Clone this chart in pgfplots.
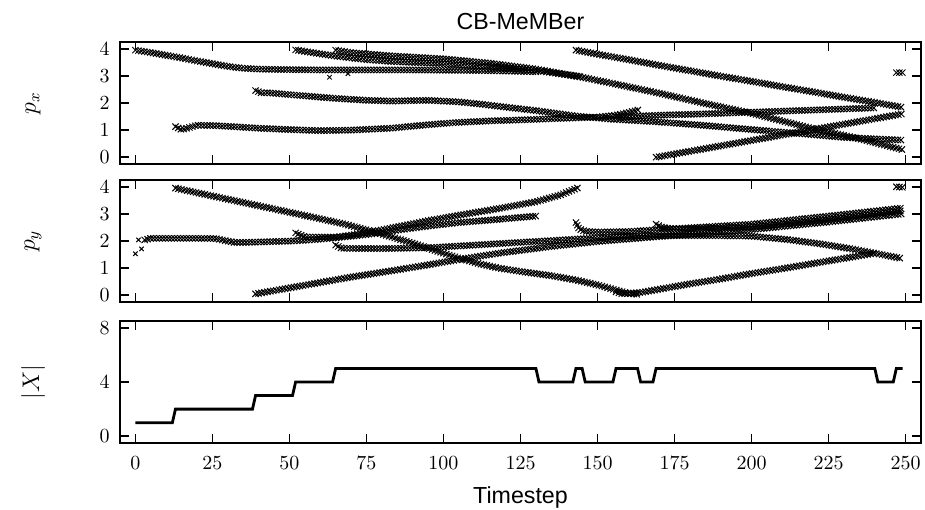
\documentclass[border=0pt]{standalone}
\usepackage{fontspec}
\newfontfamily\helv{Liberation Sans}
\usepackage{pgfplots}
\pgfplotsset{compat=1.18}
\usetikzlibrary{decorations.markings}

\pgfplotsset{
 panel/.style={scale only axis, width=400.5pt, height=61pt, anchor=north west,
   xmin=-5, xmax=255, xtick={0,25,...,250}, tick align=inside, major tick length=4.5pt,
   axis line style={line width=1.1pt}, every tick/.append style={line width=0.8pt, black},
   tick label style={font=\fontsize{10.3}{12}\selectfont},
   xticklabel style={yshift=-3.5pt}, yticklabel style={xshift=-1.7pt},
   ylabel style={at={(axis description cs:-0.1086,0.5)}, anchor=center, font=\fontsize{12}{14}\selectfont},
   every axis plot/.append style={mark=none}},
 xtrack/.style={draw=none, postaction={decorate}, decoration={markings,
   mark=between positions 0 and 1 step 1.5pt with {\pgftransformresetnontranslations
   \draw[black,line width=0.5pt] (-1.55pt,-1.55pt)--(1.55pt,1.55pt) (-1.55pt,1.55pt)--(1.55pt,-1.55pt);}}},
 outl/.style={only marks, mark=x, mark size=1.55pt, mark options={line width=0.5pt, black}},
}

\begin{document}
\begin{tikzpicture}
\useasboundingbox (0,0) rectangle (462.5pt,-254.5pt);

% ---------------- p_x ----------------
\begin{axis}[panel, at={(60pt,-21pt)}, ymin=-0.25, ymax=4.25, ytick={0,1,2,3,4},
  xticklabels={}, ylabel={$p_x$},
  title={CB-MeMBer}, title style={at={(0.5,1)}, anchor=base, yshift=0.5pt, font=\helv\fontsize{11.6}{14}\selectfont}]
\addplot[xtrack] coordinates {(0,3.95) (5,3.86) (10,3.76) (15,3.66) (20,3.55) (25,3.45) (30,3.35) (35,3.28) (40,3.25) (50,3.23) (60,3.22) (70,3.22) (80,3.22) (90,3.22) (100,3.21) (110,3.2) (120,3.18) (130,3.15)};
\addplot[xtrack] coordinates {(13,1.13) (15,1.02) (17,1.08) (20,1.18) (25,1.17) (30,1.14) (40,1.07) (50,1.02) (60,0.98) (70,1.0) (83,1.07) (95,1.2) (104,1.28) (115,1.34) (126,1.38) (135,1.42) (143,1.45) (150,1.48) (156,1.55) (160,1.65) (164,1.77)};
\addplot[xtrack] coordinates {(39,2.46) (41,2.37) (43,2.38) (52,2.29) (65,2.17) (75,2.1) (83,2.07) (95,2.1) (105,2.04) (112,1.96) (120,1.85) (130,1.72) (143,1.52) (155,1.4) (170,1.3) (185,1.17) (195,1.07) (215,0.88) (230,0.73) (249,0.63)};
\addplot[xtrack] coordinates {(52,3.96) (55,3.9) (65,3.73) (75,3.6) (83,3.53) (100,3.45) (115,3.33) (130,3.2) (145,2.97)};
\addplot[xtrack] coordinates {(65,3.95) (70,3.86) (83,3.74) (100,3.63) (115,3.47) (130,3.25) (145,2.95) (160,2.6) (170,2.36) (185,1.98) (200,1.62) (219,1.08) (235,0.68) (249,0.28)};
\addplot[xtrack] coordinates {(143,3.95) (150,3.8) (160,3.6) (170,3.39) (180,3.19) (190,2.99) (200,2.8) (210,2.6) (220,2.41) (230,2.21) (240,2.02) (249,1.84)};
\addplot[xtrack] coordinates {(156,1.5) (160,1.5) (170,1.55) (185,1.6) (200,1.66) (215,1.72) (230,1.78) (240,1.82)};
\addplot[xtrack] coordinates {(169,0.0) (180,0.22) (190,0.42) (200,0.62) (210,0.82) (220,1.02) (230,1.22) (240,1.42) (249,1.6)};
\addplot[xtrack] coordinates {(247,3.12) (249,3.12)};
\addplot[outl] coordinates {(63,2.95) (69,3.08)};
\end{axis}

% ---------------- p_y ----------------
\begin{axis}[panel, at={(60pt,-90pt)}, ymin=-0.25, ymax=4.25, ytick={0,1,2,3,4},
  xticklabels={}, ylabel={$p_y$}]
\addplot[xtrack] coordinates {(3,2.04) (5,2.1) (10,2.1) (15,2.1) (20,2.1) (26,2.09) (29,2.02) (32,1.95) (36,1.95) (45,1.98) (51,2.0) (58,2.05) (65,2.12) (72,2.2) (78,2.28) (85,2.4) (95,2.55) (105,2.68) (118,2.8) (130,2.92)};
\addplot[xtrack] coordinates {(13,3.95) (20,3.78) (30,3.54) (40,3.3) (50,3.06) (60,2.82) (68,2.62) (78,2.32) (90,1.92) (100,1.55) (105,1.37) (112,1.15) (118,1.0) (126,0.86) (135,0.72) (143,0.56) (150,0.38) (156,0.19) (160,0.07) (163,0.03)};
\addplot[xtrack] coordinates {(39,0.05) (50,0.27) (60,0.47) (70,0.67) (83,0.9) (95,1.12) (105,1.32) (118,1.55) (135,1.8) (150,1.98) (165,2.12) (180,2.25) (200,2.42) (225,2.7) (249,3.0)};
\addplot[xtrack] coordinates {(52,2.3) (55,2.15) (65,2.14) (75,2.3) (83,2.48) (95,2.75) (105,2.95) (118,3.2) (130,3.45) (138,3.7) (144,3.98)};
\addplot[xtrack] coordinates {(65,1.85) (67,1.73) (80,1.72) (95,1.75) (110,1.85) (125,1.95) (140,2.05) (155,2.15) (169,2.2) (185,2.2) (200,2.18) (212,2.05) (222,1.9) (232,1.72) (240,1.55) (249,1.35)};
\addplot[xtrack] coordinates {(143,2.68) (144,2.44) (146,2.36) (150,2.33) (160,2.35) (170,2.42) (185,2.52) (200,2.62) (225,2.92) (249,3.22)};
\addplot[xtrack] coordinates {(156,0.12) (158,0.05) (161,0.08) (164,0.1) (170,0.22) (180,0.42) (190,0.6) (200,0.8) (210,0.98) (220,1.17) (230,1.36) (240,1.55)};
\addplot[xtrack] coordinates {(169,2.62) (171,2.5) (175,2.45) (185,2.45) (200,2.52) (225,2.8) (249,3.12)};
\addplot[xtrack] coordinates {(247,4.0) (249,3.98)};
\addplot[outl] coordinates {(0,1.53) (1,2.04) (2,1.71)};
\end{axis}

% ---------------- |X| ----------------
\begin{axis}[panel, at={(60pt,-160.5pt)}, ymin=-0.5, ymax=8.5, ytick={0,4,8},
  ylabel={$|X|$},
  xlabel={Timestep}, xlabel style={at={(axis description cs:0.5,0)}, anchor=base, yshift=-30pt, font=\helv\fontsize{11.6}{14}\selectfont}]
\addplot[black, line width=1.4pt] coordinates {(0,1) (12,1) (13,2) (38,2) (39,3) (51,3) (52,4) (64,4) (65,5) (130,5) (131,4) (142,4) (143,5) (145,5) (146,4) (155,4) (156,5) (163,5) (164,4) (168,4) (169,5) (240,5) (241,4) (246,4) (247,5) (249,5)};
\end{axis}
\end{tikzpicture}
\end{document}
